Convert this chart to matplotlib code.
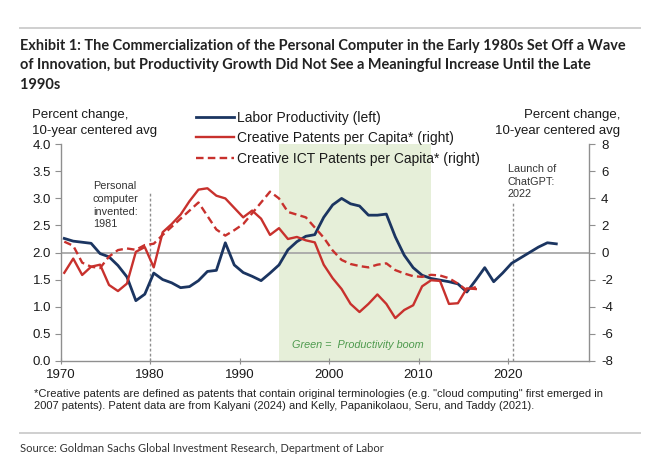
import matplotlib

matplotlib.use("Agg")
import matplotlib.pyplot as plt
import numpy as np
from matplotlib.lines import Line2D

# ---- data ----
years = np.arange(1970, 2026)
labor_productivity = [
    2.26, 2.21, 2.19, 2.17, 1.98, 1.92, 1.76, 1.55, 1.11, 1.23,
    1.62, 1.50, 1.44, 1.35, 1.37, 1.48, 1.65, 1.67, 2.18, 1.77,
    1.63, 1.56, 1.48, 1.62, 1.77, 2.05, 2.20, 2.30, 2.33, 2.65,
    2.88, 3.00, 2.90, 2.86, 2.69, 2.69, 2.71, 2.29, 1.95, 1.72,
    1.58, 1.52, 1.49, 1.46, 1.42, 1.27, 1.49, 1.72, 1.46, 1.62,
    1.80, 1.90, 2.00, 2.10, 2.18, 2.16,
]

patent_years = np.arange(1970, 2017)
creative_patents = [
    -1.50, -0.45, -1.66, -1.05, -0.90, -2.40, -2.85, -2.30, 0.05, 0.40,
    -1.10, 1.50, 2.10, 2.80, 3.80, 4.65, 4.75, 4.20, 4.00, 3.30,
    2.60, 3.10, 2.50, 1.30, 1.80, 1.00, 1.15, 0.90, 0.75, -0.90,
    -1.90, -2.70, -3.80, -4.40, -3.80, -3.10, -3.80, -4.85, -4.25, -3.90,
    -2.50, -2.05, -2.10, -3.80, -3.75, -2.65, -2.70,
]
ict_patents = [
    0.80, 0.50, -0.75, -1.05, -1.15, -0.30, 0.18, 0.30, 0.20, 0.55,
    0.65, 1.30, 1.90, 2.50, 3.10, 3.70, 2.70, 1.70, 1.25, 1.65,
    2.10, 2.90, 3.70, 4.50, 4.00, 3.00, 2.80, 2.60, 1.85, 1.10,
    0.15, -0.55, -0.85, -1.00, -1.10, -0.90, -0.80, -1.30, -1.55, -1.75,
    -1.80, -1.65, -1.70, -1.90, -2.30, -2.80, -2.55,
]

boom_start, boom_end = 1994.4, 2011.4
pc_year, chatgpt_year = 1980.0, 2020.6
mid_year = 0.4  # annual series are plotted a little inside each year

BLUE = "#1b3561"
RED = "#c8312d"
GRAY = "#8f8f8f"
CHART_FONT = ["Liberation Sans", "DejaVu Sans"]
HEAD_FONT = ["Lato", "DejaVu Sans"]

plt.rcParams["font.family"] = CHART_FONT
plt.rcParams["axes.unicode_minus"] = False

fig = plt.figure(figsize=(6.5, 4.69), dpi=100)
ax = fig.add_axes([0.0934, 0.2309, 0.8120, 0.4614])
ax2 = ax.twinx()

ax.axvspan(boom_start, boom_end, color="#e6efd9", zorder=0, lw=0)
ax.axhline(2.0, color="#a8a8a8", lw=1.3, zorder=1)
ax.vlines(pc_year, 0, 3.13, color=GRAY, lw=1.0, linestyles=(0, (2, 1.6)), zorder=1)
ax.vlines(chatgpt_year, 0, 2.95, color=GRAY, lw=1.0, linestyles=(0, (2, 1.6)), zorder=1)

(l1,) = ax.plot(years + mid_year, labor_productivity, color=BLUE, lw=2.0,
                label="Labor Productivity (left)", zorder=3)
(l2,) = ax2.plot(patent_years + mid_year, creative_patents, color=RED, lw=1.7,
                 label="Creative Patents per Capita* (right)", zorder=2)
(l3,) = ax2.plot(patent_years + mid_year, ict_patents, color=RED, lw=1.7,
                 dashes=(3.2, 1.8), label="Creative ICT Patents per Capita* (right)",
                 zorder=2)

ax.set_xlim(1970, 2029)
ax.set_ylim(0, 4)
ax2.set_ylim(-8, 8)
ax.set_xticks(np.arange(1970, 2030, 10))
ax.set_yticks(np.arange(0, 4.01, 0.5))
ax.set_yticklabels([f"{v:.1f}" for v in np.arange(0, 4.01, 0.5)])
ax2.set_yticks(np.arange(-8, 9, 2))

for side in ["top", "right"]:
    ax.spines[side].set_visible(False)
for side in ["top", "left", "bottom"]:
    ax2.spines[side].set_visible(False)
for spine in [ax.spines["left"], ax.spines["bottom"], ax2.spines["right"]]:
    spine.set_color(GRAY)
    spine.set_linewidth(1.0)

ax.tick_params(axis="y", direction="out", length=4, color=GRAY, labelsize=9.5,
               labelcolor="#1a1a1a", pad=3)
ax.tick_params(axis="x", direction="inout", length=4, color=GRAY, labelsize=9.5,
               labelcolor="#1a1a1a", pad=4)
ax2.tick_params(axis="y", direction="out", length=4, color=GRAY, labelsize=9.5,
                labelcolor="#1a1a1a", pad=5)

ax.text(1973.6, 3.32, "Personal\ncomputer\ninvented:\n1981", fontsize=7.8,
        color="#333333", va="top", ha="left", linespacing=1.35)
ax.text(2020.0, 3.64, "Launch of\nChatGPT:\n2022", fontsize=7.8,
        color="#333333", va="top", ha="left", linespacing=1.35)
ax.text(1995.9, 0.29, "Green =  Productivity boom", fontsize=7.8, style="italic",
        color="#4e9a4e", va="center", ha="left")

fig.text(32 / 650, 1 - 123 / 469, "Percent change,\n10-year centered avg", fontsize=9.5,
         color="#1a1a1a", ha="left", va="center", linespacing=1.35)
fig.text(620 / 650, 1 - 123 / 469, "Percent change,\n10-year centered avg", fontsize=9.5,
         color="#1a1a1a", ha="right", va="center", linespacing=1.35)

fig.legend(handles=[l1, l2, l3], loc="upper left", bbox_to_anchor=(196 / 650, 1 - 111 / 469),
           frameon=False, fontsize=10, handlelength=2.75, handletextpad=0.2,
           labelspacing=0.45, borderpad=0, borderaxespad=0, labelcolor="#1a1a1a")

title = ("Exhibit 1: The Commercialization of the Personal Computer in the Early 1980s Set Off a Wave\n"
         "of Innovation, but Productivity Growth Did Not See a Meaningful Increase Until the Late\n"
         "1990s")
fig.text(20 / 650, 1 - 39 / 469, title, fontsize=10.45, fontweight="bold", family=HEAD_FONT,
         color="#222222", ha="left", va="top", linespacing=1.5)

footnote = ("*Creative patents are defined as patents that contain original terminologies "
            "(e.g. \"cloud computing\" first emerged in\n"
            "2007 patents). Patent data are from Kalyani (2024) and Kelly, Papanikolaou, "
            "Seru, and Taddy (2021).")
fig.text(34 / 650, 1 - 400 / 469, footnote, fontsize=8, color="#222222", ha="left",
         va="center", linespacing=1.35)

for y in (28, 433):
    fig.add_artist(Line2D([20 / 650, 640 / 650], [1 - y / 469] * 2,
                          transform=fig.transFigure, color="#cfcfcf", lw=1.4))

fig.text(20 / 650, 1 - 448 / 469,
         "Source: Goldman Sachs Global Investment Research, Department of Labor",
         fontsize=8, family=HEAD_FONT, color="#333333", ha="left", va="center")

fig.savefig("out.png", dpi=100)
